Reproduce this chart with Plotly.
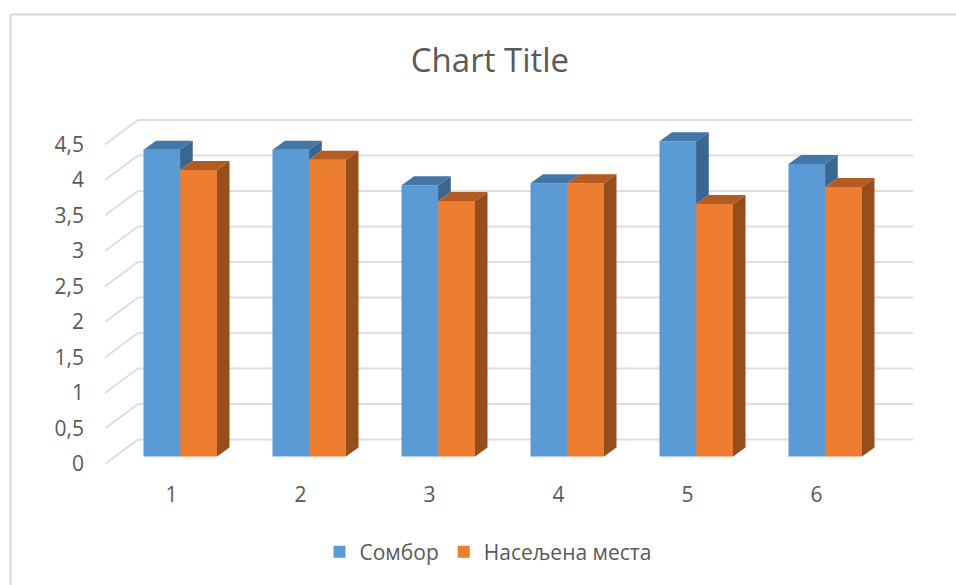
import plotly.graph_objects as go

# ---- data ----
categories = [1, 2, 3, 4, 5, 6]
sombor = [4.32, 4.32, 3.82, 3.85, 4.44, 4.12]
naselja = [4.035, 4.18, 3.60, 3.85, 3.556, 3.795]
series_names = ["Сомбор", "Насељена места"]
y_ticks = [0, 0.5, 1, 1.5, 2, 2.5, 3, 3.5, 4, 4.5]
title_text = "Chart Title"

# ---- geometry (pixels of the 956x585 page) ----
W, H = 956, 585
L, R, T, B = 105, 913, 116, 464      # plot rectangle
PX_X = 129.0                         # pixels per category
PX_Y = 71.0                          # pixels per value unit
X1_PX = 171.5                        # pixel of category 1
xr = [1 - (X1_PX - L) / PX_X, 1 + (R - X1_PX) / PX_X]
yr = [0, (B - T) / PX_Y]

BAR_W = 36.75 / PX_X
OFF_A = -28.0 / PX_X
OFF_B = OFF_A + BAR_W
BASE = 7.5 / PX_Y
DX, DY = 12.5 / PX_X, 9.0 / PX_Y     # depth of a bar
WALL_DX, WALL_DY = 33 / PX_X, 24.5 / PX_Y  # depth of the floor

BLUE, BLUE_TOP, BLUE_SIDE = "#5B9BD5", "#4477A7", "#3A668F"
ORANGE, ORANGE_TOP, ORANGE_SIDE = "#ED7D31", "#B35B20", "#964F1C"
GRID = "#DEDEDE"
TXT = "#595959"
FONT = "Open Sans"


def polys(list_of_polys):
    xs, ys = [], []
    for p in list_of_polys:
        for a, b in p + [p[0]]:
            xs.append(a)
            ys.append(b)
        xs.append(None)
        ys.append(None)
    return xs, ys


def face(list_of_polys, color):
    xs, ys = polys(list_of_polys)
    return go.Scatter(x=xs, y=ys, mode="lines", fill="toself", fillcolor=color,
                      line=dict(width=0, color=color), showlegend=False, hoverinfo="skip")


def top_face(c, off, v):
    l, r, t = c + off, c + off + BAR_W, v + BASE
    return [(l, t), (r, t), (r + DX, t + DY), (l + DX, t + DY)]


blue_top = [top_face(c, OFF_A, v) for c, v in zip(categories, sombor)]
orange_top = [top_face(c, OFF_B, v) for c, v in zip(categories, naselja)]
blue_side = []
for c, a, b in zip(categories, sombor, naselja):
    if a > b:
        r = c + OFF_A + BAR_W
        blue_side.append([(r, a + BASE), (r + DX, a + BASE + DY), (r + DX, b + BASE + DY), (r, b + BASE)])
orange_side = []
for c, v in zip(categories, naselja):
    r = c + OFF_B + BAR_W
    orange_side.append([(r, v + BASE), (r + DX, v + BASE + DY), (r + DX, BASE + DY), (r, BASE)])

fig = go.Figure()
fig.add_trace(go.Bar(x=categories, y=sombor, base=BASE, width=BAR_W + 1 / PX_X, offset=OFF_A,
                     marker=dict(color=BLUE, line=dict(width=0)), name=series_names[0]))
fig.add_trace(go.Bar(x=categories, y=naselja, base=BASE, width=BAR_W, offset=OFF_B,
                     marker=dict(color=ORANGE, line=dict(width=0)), name=series_names[1]))
fig.add_trace(face(blue_top, BLUE_TOP))
fig.add_trace(face(blue_side, BLUE_SIDE))
fig.add_trace(face(orange_top, ORANGE_TOP))
fig.add_trace(face(orange_side, ORANGE_SIDE))

shapes = []
for v in y_ticks:
    # floor/wall diagonal and back wall gridline
    shapes.append(dict(type="line", layer="below", xref="x", yref="y",
                       x0=xr[0], y0=v, x1=xr[0] + WALL_DX, y1=v + WALL_DY,
                       line=dict(color=GRID, width=2)))
    shapes.append(dict(type="line", layer="below", xref="x", yref="y",
                       x0=xr[0] + WALL_DX, y0=v + WALL_DY, x1=xr[1], y1=v + WALL_DY,
                       line=dict(color=GRID, width=2)))


def px(x):
    return (x - L) / (R - L)


def py(y):
    return (B - y) / (B - T)


# chart frame (top and left only are inside the crop)
shapes.append(dict(type="line", xref="paper", yref="paper", x0=px(10.5), x1=px(W), y0=py(14.5), y1=py(14.5),
                   line=dict(color="#D9D9D9", width=2)))
shapes.append(dict(type="line", xref="paper", yref="paper", x0=px(10.5), x1=px(10.5), y0=py(14.5), y1=py(H),
                   line=dict(color="#D9D9D9", width=2)))

fig.update_layout(
    width=W, height=H, autosize=False,
    margin=dict(l=L, r=W - R, t=T, b=H - B),
    paper_bgcolor="white", plot_bgcolor="white",
    barmode="overlay", separators=", ",
    font=dict(family=FONT, color=TXT),
    title=dict(text=title_text, x=490 / W, xanchor="center", y=1 - 60 / H, yanchor="middle",
               font=dict(size=33, color=TXT, family=FONT)),
    xaxis=dict(range=xr, tickmode="array", tickvals=categories, ticktext=[str(c) for c in categories],
               showgrid=False, zeroline=False, showline=False, ticks="", ticklabelstandoff=16,
               tickfont=dict(size=21, color=TXT)),
    yaxis=dict(range=yr, tickmode="array", tickvals=y_ticks, showgrid=False, zeroline=False,
               showline=False, ticks="", ticklabelstandoff=20, tickformat="~g",
               tickfont=dict(size=21, color=TXT)),
    legend=dict(orientation="h", x=488 / W, xref="container", xanchor="center", y=1 - 552 / H,
                yref="container", yanchor="middle", font=dict(size=21, color=TXT),
                bgcolor="rgba(0,0,0,0)"),
    shapes=shapes,
)
fig.write_html("out.html", config={"displayModeBar": False},
               post_script="document.body.style.margin='0';document.documentElement.style.overflow='hidden';")
